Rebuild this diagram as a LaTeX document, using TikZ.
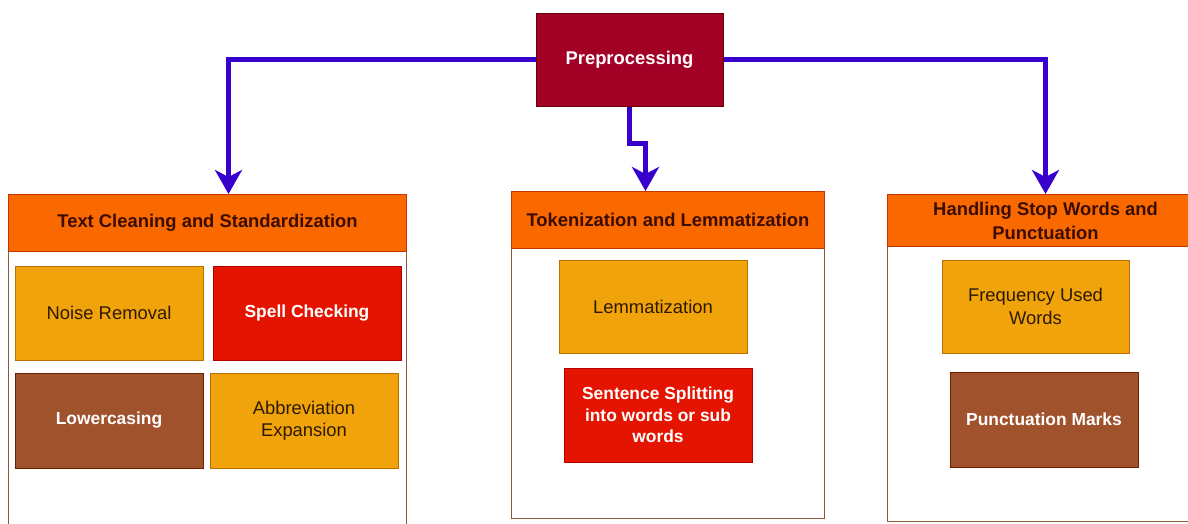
\documentclass[tikz,border=0pt]{standalone}
\usepackage{fontspec}
\setmainfont{Liberation Sans}
\usetikzlibrary{arrows.meta}

\definecolor{crimsonfill}{HTML}{A20025}
\definecolor{crimsonline}{HTML}{6F0000}
\definecolor{orangefill}{HTML}{FA6800}
\definecolor{orangeline}{HTML}{C73500}
\definecolor{amberfill}{HTML}{F0A30A}
\definecolor{amberline}{HTML}{BD7000}
\definecolor{redfill}{HTML}{E51400}
\definecolor{redline}{HTML}{B20000}
\definecolor{siennafill}{HTML}{A0522D}
\definecolor{siennaline}{HTML}{6D1F00}
\definecolor{panelline}{HTML}{8B5A3C}
\definecolor{flowblue}{HTML}{3700CC}
\definecolor{headtext}{HTML}{3A0D00}
\definecolor{darktext}{HTML}{2E1A00}

\tikzset{
  basefont/.style={font=\fontsize{18.4}{22.5}\selectfont},
  card/.style={basefont, rectangle, draw, line width=1pt, inner sep=2pt,
    minimum width=188pt, minimum height=94pt, align=center},
  ambercard/.style={card, fill=amberfill, draw=amberline, text=darktext},
  redcard/.style={card, fill=redfill, draw=redline, text=white, font=\fontsize{17.4}{21.5}\selectfont\bfseries},
  siennacard/.style={card, fill=siennafill, draw=siennaline, text=white, font=\fontsize{17.4}{21.5}\selectfont\bfseries},
  panel/.style={rectangle, draw=panelline, line width=1.2pt, fill=white, anchor=north west, inner sep=0pt},
  headbar/.style={rectangle, draw=orangeline, line width=1pt, fill=orangefill, anchor=north west,
    inner sep=0pt, align=center, text=headtext, font=\fontsize{18.4}{24}\selectfont\bfseries},
  flow/.style={draw=flowblue, line width=5pt, line join=miter,
    -{Stealth[length=24pt, width=27pt, inset=7pt]}},
}

\begin{document}
\begin{tikzpicture}[x=1pt, y=-1pt]
\useasboundingbox (0,0) rectangle (1188,523);
\clip (0,0) rectangle (1188,523);

% root node
\node[rectangle, draw=crimsonline, line width=1pt, fill=crimsonfill, text=white,
      minimum width=187pt, minimum height=93pt,
      font=\fontsize{18.4}{22}\selectfont\bfseries] (pre) at (629.5,59.5) {Preprocessing};

% left panel
\node[panel, minimum width=398pt, minimum height=345pt] (Lbox) at (8,194) {};
\node[headbar, minimum width=398pt, minimum height=57pt] (Lhead) at (8,194) {Text Cleaning and Standardization};
\node[ambercard] (noise) at (109,313) {Noise Removal};
\node[redcard] (spell) at (307,313) {Spell Checking};
\node[siennacard, minimum height=95pt] (lower) at (109,420.5) {Lowercasing};
\node[ambercard, minimum height=95pt] (abbr) at (304,420.5) {Abbreviation\\Expansion};

% middle panel
\node[panel, minimum width=313pt, minimum height=327pt] (Mbox) at (511,191) {};
\node[headbar, minimum width=313pt, minimum height=57pt] (Mhead) at (511,191) {Tokenization and Lemmatization};
\node[ambercard, minimum height=93pt] (lemma) at (653,306.5) {Lemmatization};
\node[redcard] (split) at (658,415) {Sentence Splitting\\into words or sub\\words};

% right panel
\node[panel, minimum width=316pt, minimum height=327pt] (Rbox) at (887,194) {};
\node[headbar, minimum width=316pt, minimum height=52pt] (Rhead) at (887,194) {Handling Stop Words and\\Punctuation};
\node[ambercard, minimum width=187pt, minimum height=93pt] (freq) at (1035.5,306.5) {Frequency Used\\Words};
\node[siennacard, minimum height=95pt] (punct) at (1044,419.5) {Punctuation Marks};

% connectors
\draw[flow] (pre.west) -| ([xshift=21pt]Lhead.north);
\draw[flow] (pre.south) -- ++(0,37) -| ([xshift=-22.5pt]Mhead.north);
\draw[flow] (pre.east) -| (Rhead.north);
\end{tikzpicture}
\end{document}
